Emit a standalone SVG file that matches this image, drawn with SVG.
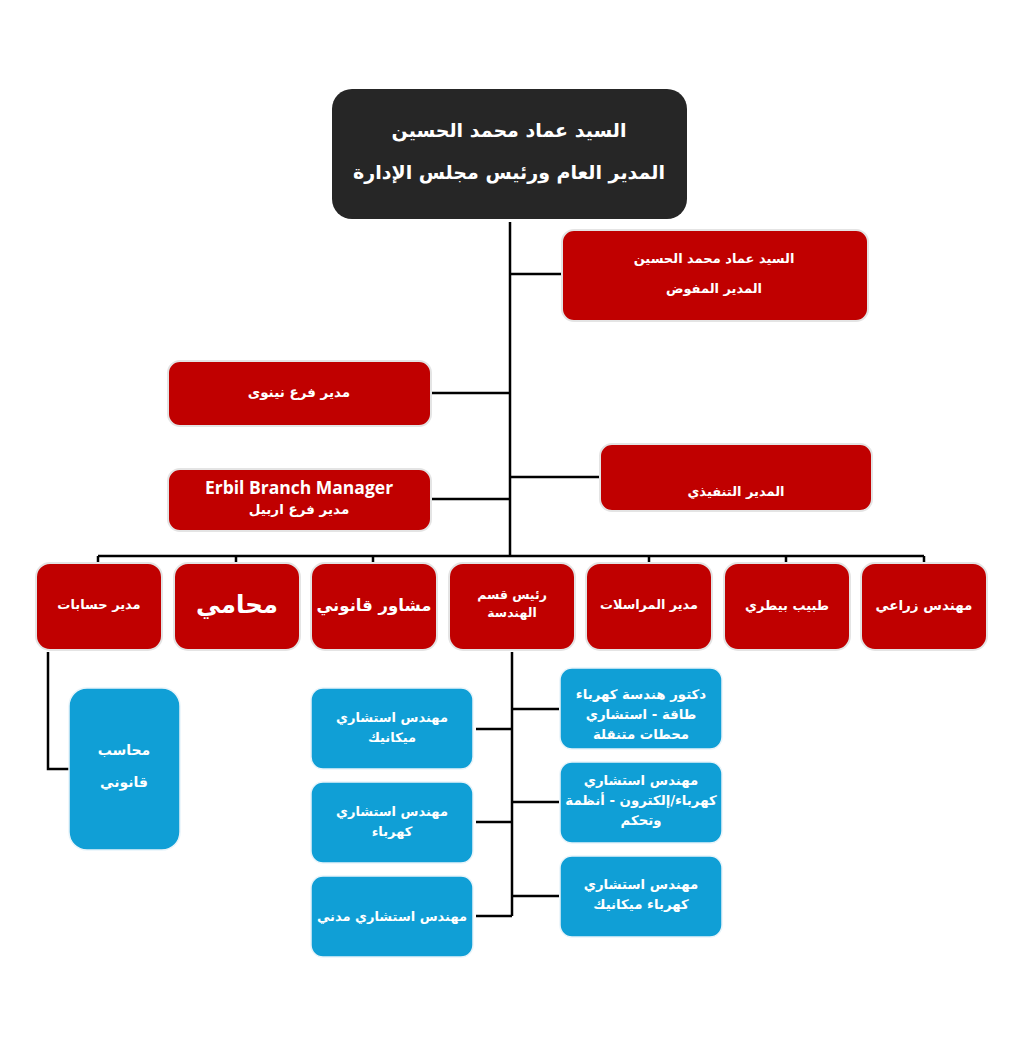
<svg xmlns="http://www.w3.org/2000/svg" width="1024" height="1047" viewBox="0 0 1024 1047">
<style>
.red{fill:#C00000;stroke:#E4E4E4;stroke-width:2}
.blue{fill:#109FD6;stroke:#E8F4FA;stroke-width:1.5}
.dark{fill:#262626}
.t{font-family:"DejaVu Sans","Noto Sans",sans-serif;font-weight:bold;fill:#FFFFFF;text-anchor:middle}
.ln{stroke:#000000;stroke-width:2.5;fill:none}
</style>
<rect width="1024" height="1047" fill="#FFFFFF"/>
<g id="connectors">
<path class="ln" d="M510 222 V557"/>
<path class="ln" d="M510 274 H561"/>
<path class="ln" d="M432 393 H510"/>
<path class="ln" d="M510 477 H600"/>
<path class="ln" d="M432 499 H510"/>
<path class="ln" d="M98 556 H924"/>
<path class="ln" d="M98 556 V562 M236 556 V562 M373 556 V562 M649 556 V562 M786 556 V562 M924 556 V562"/>
<path class="ln" d="M512 652 V916"/>
<path class="ln" d="M476 729 H512 M476 822 H512 M476 916 H512"/>
<path class="ln" d="M512 709 H559 M512 802 H559 M512 896 H559"/>
<path class="ln" d="M48 652 V769 H69"/>
</g>
<g id="ceo">
<rect class="dark" x="332" y="89" width="355" height="130" rx="20"/>
<text class="t" x="509" y="137" font-size="19">السيد عماد محمد الحسين</text>
<text class="t" x="509" y="179" font-size="19">المدير العام ورئيس مجلس الإدارة</text>
</g>
<g id="deputy">
<rect class="red" x="562" y="230" width="306" height="91" rx="12"/>
<text class="t" x="714" y="263" font-size="13">السيد عماد محمد الحسين</text>
<text class="t" x="714" y="293" font-size="13">المدير المفوض</text>
</g>
<g id="nineveh">
<rect class="red" x="168" y="361" width="263" height="65" rx="12"/>
<text class="t" x="299" y="397" font-size="13.5">مدير فرع نينوى</text>
</g>
<g id="executive">
<rect class="red" x="600" y="444" width="272" height="67" rx="12"/>
<text class="t" x="736" y="496" font-size="13">المدير التنفيذي</text>
</g>
<g id="erbil">
<rect class="red" x="168" y="469" width="263" height="62" rx="12"/>
<text class="t" x="299" y="494" font-size="17.5" style="font-family:'Open Sans','DejaVu Sans',sans-serif">Erbil Branch Manager</text>
<text class="t" x="299" y="514" font-size="13.5">مدير فرع اربيل</text>
</g>
<g id="accounts-manager">
<rect class="red" x="36" y="563" width="126" height="87" rx="14"/>
<text class="t" x="99" y="609" font-size="13">مدير حسابات</text>
</g>
<g id="lawyer">
<rect class="red" x="174" y="563" width="126" height="87" rx="14"/>
<text class="t" x="237" y="613" font-size="24.5">محامي</text>
</g>
<g id="legal-advisor">
<rect class="red" x="311" y="563" width="126" height="87" rx="14"/>
<text class="t" x="374" y="611" font-size="16.5">مشاور قانوني</text>
</g>
<g id="engineering-head">
<rect class="red" x="449" y="563" width="126" height="87" rx="14"/>
<text class="t" x="512" y="599" font-size="12.5">رئيس قسم</text>
<text class="t" x="512" y="617" font-size="12.5">الهندسة</text>
</g>
<g id="correspondence-manager">
<rect class="red" x="586" y="563" width="126" height="87" rx="14"/>
<text class="t" x="649" y="609" font-size="12.8">مدير المراسلات</text>
</g>
<g id="veterinarian">
<rect class="red" x="724" y="563" width="126" height="87" rx="14"/>
<text class="t" x="787" y="610" font-size="13">طبيب بيطري</text>
</g>
<g id="agri-engineer">
<rect class="red" x="861" y="563" width="126" height="87" rx="14"/>
<text class="t" x="924" y="610" font-size="13.5">مهندس زراعي</text>
</g>
<g id="accountant">
<rect class="blue" x="69" y="688" width="111" height="162" rx="18"/>
<text class="t" x="124" y="755" font-size="14">محاسب</text>
<text class="t" x="124" y="787" font-size="14">قانوني</text>
</g>
<g id="mech-consultant">
<rect class="blue" x="311" y="688" width="162" height="81" rx="12"/>
<text class="t" x="392" y="722" font-size="13">مهندس استشاري</text>
<text class="t" x="392" y="742" font-size="13">ميكانيك</text>
</g>
<g id="elec-consultant">
<rect class="blue" x="311" y="782" width="162" height="81" rx="12"/>
<text class="t" x="392" y="816" font-size="13">مهندس استشاري</text>
<text class="t" x="392" y="836" font-size="13">كهرباء</text>
</g>
<g id="civil-consultant">
<rect class="blue" x="311" y="876" width="162" height="81" rx="12"/>
<text class="t" x="392" y="921" font-size="13">مهندس استشاري مدني</text>
</g>
<g id="power-doctor">
<rect class="blue" x="560" y="668" width="162" height="81" rx="12"/>
<text class="t" x="641" y="699" font-size="13.3">دكتور هندسة كهرباء</text>
<text class="t" x="641" y="719" font-size="13.3">طاقة - استشاري</text>
<text class="t" x="641" y="739" font-size="13.3">محطات متنقلة</text>
</g>
<g id="electronics-consultant">
<rect class="blue" x="560" y="762" width="162" height="81" rx="12"/>
<text class="t" x="641" y="785" font-size="13.3">مهندس استشاري</text>
<text class="t" x="641" y="805" font-size="13.3">كهرباء/إلكترون - أنظمة</text>
<text class="t" x="641" y="825" font-size="13.3">وتحكم</text>
</g>
<g id="electromech-consultant">
<rect class="blue" x="560" y="856" width="162" height="81" rx="12"/>
<text class="t" x="641" y="889" font-size="13.3">مهندس استشاري</text>
<text class="t" x="641" y="909" font-size="13.3">كهرباء ميكانيك</text>
</g>
</svg>
